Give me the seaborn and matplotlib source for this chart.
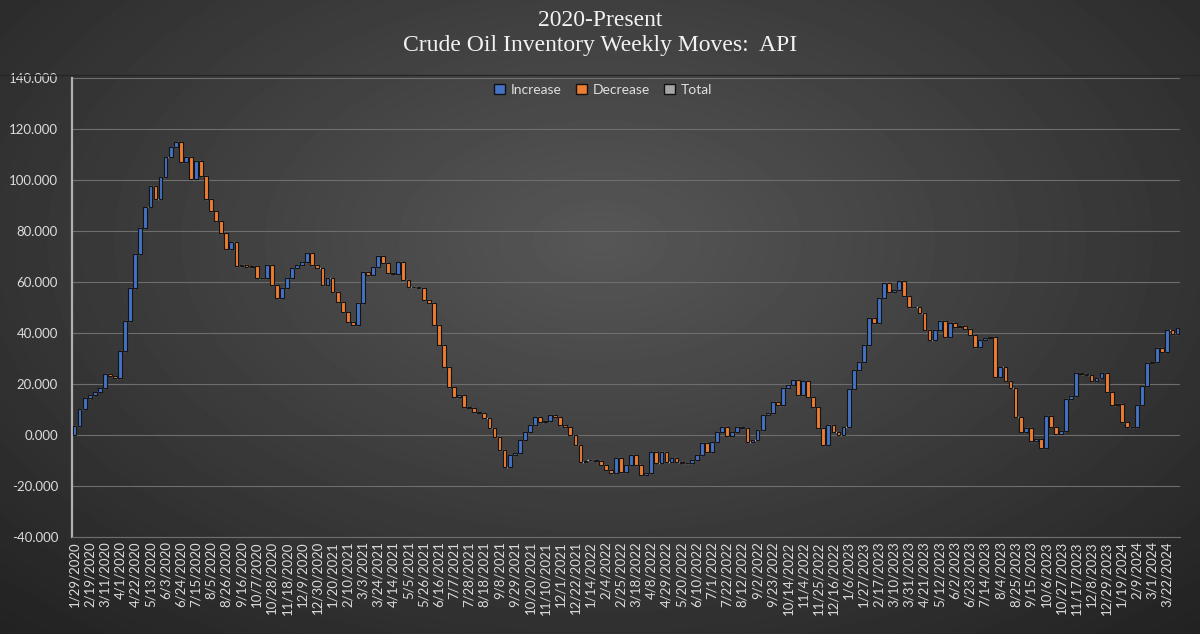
import numpy as np
import matplotlib
matplotlib.use("Agg")
import matplotlib.pyplot as plt
from matplotlib.patches import Patch
from matplotlib.lines import Line2D
import seaborn as sns

# every third week is labelled on the axis
tick_labels = [
    "1/29/2020", "2/19/2020", "3/11/2020", "4/1/2020", "4/22/2020", "5/13/2020",
    "6/3/2020", "6/24/2020", "7/15/2020", "8/5/2020", "8/26/2020", "9/16/2020",
    "10/7/2020", "10/28/2020", "11/18/2020", "12/9/2020", "12/30/2020",
    "1/20/2021", "2/10/2021", "3/3/2021", "3/24/2021", "4/14/2021", "5/5/2021",
    "5/26/2021", "6/16/2021", "7/7/2021", "7/28/2021", "8/18/2021", "9/8/2021",
    "9/29/2021", "10/20/2021", "11/10/2021", "12/1/2021", "12/22/2021",
    "1/14/2022", "2/4/2022", "2/25/2022", "3/18/2022", "4/8/2022", "4/29/2022",
    "5/20/2022", "6/10/2022", "7/1/2022", "7/22/2022", "8/12/2022", "9/2/2022",
    "9/23/2022", "10/14/2022", "11/4/2022", "11/25/2022", "12/16/2022",
    "1/6/2023", "1/27/2023", "2/17/2023", "3/10/2023", "3/31/2023", "4/21/2023",
    "5/12/2023", "6/2/2023", "6/23/2023", "7/14/2023", "8/4/2023", "8/25/2023",
    "9/15/2023", "10/6/2023", "10/27/2023", "11/17/2023", "12/8/2023", "12/29/2023",
    "1/19/2024", "2/9/2024", "3/1/2024", "3/22/2024",
]

# cumulative inventory level after each weekly report
levels_2020 = [
    3.5, 10, 14.4, 15.5, 17, 18.4, 24, 23.3, 22.3, 32.8, 44.6, 57.7, 70.9, 81,
    89.6, 97.5, 92.5, 101, 109, 113, 114.8, 107, 109, 100.4, 107.6, 101.7, 92.5,
    88, 84, 79.4, 72.8, 75.5, 66.3, 66.5, 66, 66.2, 61.4, 61.7, 66.7, 58.8, 53.6,
    57.5, 61.4, 65.4, 66.7, 68, 71.3, 66.7, 65.4,
]
levels_2021 = [
    58.8, 61.4, 56.2, 52.3, 48.4, 44.4, 43.1, 51.6, 64, 62.7, 66, 70, 67.3, 63.4,
    63, 68, 60.8, 58.2, 58, 57.6, 53, 51.6, 43.1, 35.3, 26.8, 18.9, 15.0, 15.7,
    11.1, 10.5, 9.2, 8.5, 6.6, 2.7, -0.7, -5.9, -12.4, -7.8, -7.2, -2.0, 1.3, 3.9,
    7.2, 5.2, 5.5, 7.8, 7.2, 3.9, 3.3, 0, -3.9,
]
levels_2022 = [
    -10.5, -10, -9.8, -10.3, -11.8, -13.7, -15, -9.2, -14.4, -11.8, -7.8, -11.8,
    -15.7, -15, -6.5, -11.1, -6.5, -10.5, -9.2, -10.5, -11.1, -11, -9.8, -7.8,
    -3.3, -6.5, -2.6, 1.3, 3.3, -0.4, 1.3, 3.3, 2.6, -2.6, -2, 2, 7.8, 8.5, 13.1,
    11.8, 18.3, 19.6, 21.6, 15.7, 21, 15, 10.8, 2.6, -3.9, 3.9, 1.3, 0, 3.3,
]
levels_2023 = [
    17.9, 25.5, 28.8, 35.3, 45.8, 43.8, 53.6, 59.7, 56.2, 56.8, 60.5, 54.5, 50.3,
    50, 47.7, 41.2, 37.3, 41.2, 44.8, 38.6, 43.8, 42.2, 42.7, 41.4, 39.2, 34.6,
    37.3, 37.9, 38.6, 22.9, 26.8, 21.3, 18.3, 6.9, 1.3, 2.6, -2.4, -1.7, -5.2,
    7.5, 3.3, 0.4, 1.7, 14, 15.3, 24.4, 23.9, 23.5, 21.3, 22.2, 24.2, 17,
]
levels_2024 = [
    11.8, 12.2, 5.2, 3.3, 3.1, 11.8, 19.2, 28.1, 28.8, 34, 32.4, 41.2, 39.7, 41.8,
]

levels = np.array(levels_2020 + levels_2021 + levels_2022 + levels_2023 + levels_2024)
idx = np.arange(len(levels))
prev = np.concatenate([[0.0], levels[:-1]])
moves = levels - prev

inc_color = "#4472C4"
dec_color = "#ED7D31"
tot_color = "#A5A5A5"
colors = np.where(moves >= 0, inc_color, dec_color)

sns.set_theme(style="dark")
plt.rcParams['font.family'] = ['Lato', 'DejaVu Sans']

fig = plt.figure(figsize=(12, 6.34), dpi=100)

# dark radial backdrop
bg = fig.add_axes([0, 0, 1, 1], zorder=-10)
yy, xx = np.mgrid[0:1:634j, 0:1:1200j]
r = np.sqrt(((xx - 0.5) / 0.75) ** 2 + ((yy - 0.38) / 0.85) ** 2)
shade = np.clip(0.34 - 0.21 * r, 0.1, 1)
bg.imshow(shade, cmap="gray", vmin=0, vmax=1, aspect="auto", extent=[0, 1, 0, 1])
bg.set_axis_off()

ax = fig.add_axes([72 / 1200, 1 - 537 / 634, (1180 - 72) / 1200, (537 - 78) / 634])
ax.set_facecolor("none")

# connectors between consecutive bars
sns.lineplot(x=idx, y=levels, ax=ax, drawstyle="steps-post", color="#c8c8c8",
             linewidth=1.0, linestyle=(0, (1, 1.5)), zorder=2)

ax.bar(idx, moves, bottom=prev, width=0.75, color=colors,
       edgecolor="#141414", linewidth=0.8, zorder=3)

ax.set_xlim(-0.5, len(levels) - 0.5)
ax.set_ylim(-40, 140)
yt = np.arange(-40, 141, 20)
ax.set_yticks(yt)
ax.set_yticklabels([f"{v:.3f}" for v in yt])
ax.set_xticks(idx[::3][:len(tick_labels)])
ax.set_xticklabels(tick_labels, rotation=90)
ax.set_xlabel("")
ax.set_ylabel("")
ax.tick_params(axis="both", colors="#dcdcdc", labelsize=9.5, length=0)
ax.tick_params(axis="x", pad=3)
ax.tick_params(axis="y", pad=10)

ax.yaxis.grid(True, color="#6e6e6e", linewidth=0.8)
ax.xaxis.grid(False)
ax.set_axisbelow(True)
for s in ["top", "right"]:
    ax.spines[s].set_visible(False)
ax.spines["left"].set_color("#b0b0b0")
ax.spines["left"].set_linewidth(1.6)
ax.spines["bottom"].set_color("#6e6e6e")
ax.spines["bottom"].set_linewidth(0.8)

handles = [
    Patch(facecolor=inc_color, edgecolor="#111111", label="Increase"),
    Patch(facecolor=dec_color, edgecolor="#111111", label="Decrease"),
    Patch(facecolor=tot_color, edgecolor="#111111", label="Total"),
]
leg = ax.legend(handles=handles, loc="upper center",
                bbox_to_anchor=((603 - 72) / 1108, 1.015),
                ncol=3, frameon=False, fontsize=10, handlelength=0.8,
                handleheight=0.8, columnspacing=1.0, handletextpad=0.4)
for t in leg.get_texts():
    t.set_color("#e0e0e0")

fig.add_artist(Line2D([0, 1], [1 - 75 / 634] * 2, color="#262626", linewidth=1))
fig.text(0.5, 1 - 21 / 634, "2020-Present", ha="center", va="center",
         family="Liberation Serif", fontsize=17, color="#f2f2f2")
fig.text(0.5, 1 - 45 / 634, "Crude Oil Inventory Weekly Moves:  API", ha="center",
         va="center", family="Liberation Serif", fontsize=17, color="#f2f2f2")

fig.savefig("out.png", dpi=100)
